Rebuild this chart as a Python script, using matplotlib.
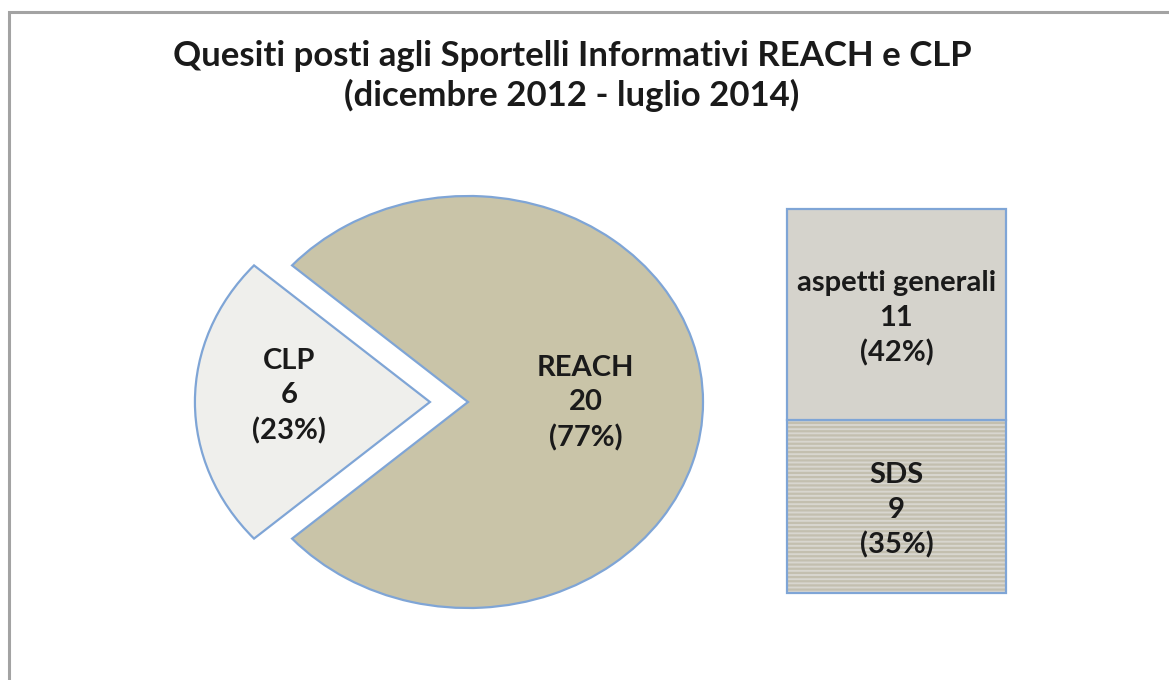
import matplotlib.pyplot as plt
from matplotlib.patches import Rectangle
import numpy as np

plt.rcParams['font.family'] = ['Lato', 'DejaVu Sans']
plt.rcParams['hatch.linewidth'] = 1.6

# data
pie_labels = ["CLP", "REACH"]
pie_values = [6, 20]
bar_labels = ["SDS", "aspetti generali"]
bar_values = [9, 11]
title = "Quesiti posti agli Sportelli Informativi REACH e CLP\n(dicembre 2012 - luglio 2014)"

total = sum(pie_values)
edge_blue = "#7fa5d6"
lab_size = 21

W, H = 1169, 680
fig = plt.figure(figsize=(W / 100, H / 100), dpi=100)

# outer chart frame (grey, cut by image on right/bottom)
fig.patches.append(Rectangle((9 / W, -0.1), 1.2, (H - 12) / H + 0.1,
                             transform=fig.transFigure, fill=False,
                             edgecolor="#a3a3a3", linewidth=2.2))

fig.text(572 / W, 1 - 76 / H, title, ha="center", va="center",
         fontsize=25, fontweight="bold", linespacing=1.28, color="#1a1a1a")

# pie (stretched into an ellipse like the original)
rx, ry = 235, 206
cx, cy = 468, H - 402
x0, x1, y0, y1 = -1.4, 1.2, -1.2, 1.2
ax = fig.add_axes([(cx + x0 * rx) / W, (cy + y0 * ry) / H,
                   (x1 - x0) * rx / W, (y1 - y0) * ry / H])
start = 180 - 360 * pie_values[0] / total / 2
wedges, _ = ax.pie(pie_values, explode=[0.162, 0], startangle=start,
                   colors=["#efefec", "#c9c4a8"],
                   wedgeprops=dict(edgecolor=edge_blue, linewidth=1.6))
ax.set_aspect("auto")
ax.set_xlim(x0, x1)
ax.set_ylim(y0, y1)
for w, lab, v, frac, dy in zip(wedges, pie_labels, pie_values, [0.6, 0.5],
                               [0.03, -0.005]):
    ang = np.deg2rad((w.theta1 + w.theta2) / 2)
    px = w.center[0] + frac * np.cos(ang)
    py = w.center[1] + frac * np.sin(ang) + dy
    ax.text(px, py, f"{lab}\n{v}\n({v / total:.0%})", ha="center", va="center",
            fontsize=lab_size, fontweight="bold", linespacing=1.4, color="#1a1a1a")

# stacked bar
bx0, bx1, by0, by1 = 787, 1006, H - 593, H - 209
bax = fig.add_axes([bx0 / W, by0 / H, (bx1 - bx0) / W, (by1 - by0) / H])
bax.set_xlim(-0.5, 0.5)
bax.set_ylim(0, sum(bar_values))
bax.axis("off")
bottoms = np.cumsum([0] + bar_values[:-1])
fills = ["#d8d6cf", "#d5d3cc"]
hatches = ["----", None]
for lab, v, b, fc, h in zip(bar_labels, bar_values, bottoms, fills, hatches):
    bax.bar(0, v, bottom=b, width=1, color=fc, hatch=h, edgecolor="#c3bfaf",
            linewidth=0, clip_on=False)
    bax.bar(0, v, bottom=b, width=1, fill=False, edgecolor=edge_blue,
            linewidth=1.6, clip_on=False)
    bax.text(0, b + v / 2 - 0.2, f"{lab}\n{v}\n({v / total:.0%})", ha="center",
             va="center", fontsize=lab_size, fontweight="bold", linespacing=1.4,
             color="#1a1a1a")

fig.savefig("out.png", dpi=100)
